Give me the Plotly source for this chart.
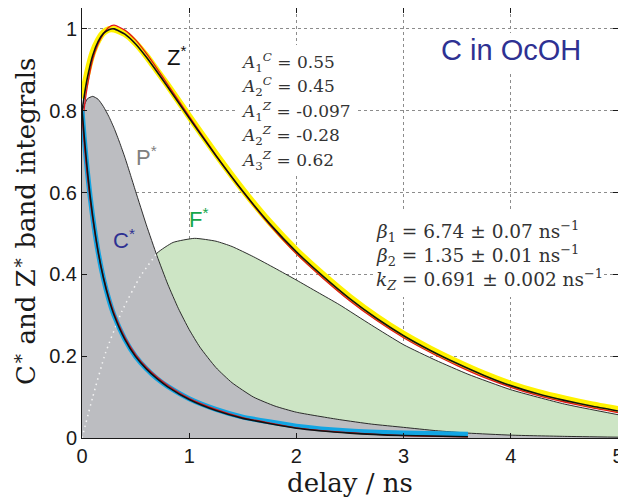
import plotly.graph_objects as go

# ---------------- data ----------------
t_z = [0, 0.025, 0.05, 0.1, 0.15, 0.2, 0.25, 0.3, 0.4, 0.5, 0.6, 0.7, 0.8, 1.0,
       1.25, 1.5, 1.75, 2.0, 2.25, 2.5, 2.75, 3.0, 3.25, 3.5, 3.75, 4.0, 4.25,
       4.5, 4.75, 5.0]
z_data = [0.83, 0.862, 0.893, 0.942, 0.972, 0.991, 0.999, 0.999, 0.988, 0.965,
          0.934, 0.898, 0.862, 0.786, 0.694, 0.607, 0.528, 0.459, 0.399, 0.344,
          0.296, 0.254, 0.218, 0.186, 0.157, 0.132, 0.112, 0.096, 0.082, 0.070]
z_fit = [0.798, 0.843, 0.880, 0.935, 0.969, 0.989, 0.998, 1.000, 0.987, 0.963,
         0.931, 0.895, 0.858, 0.782, 0.690, 0.603, 0.524, 0.455, 0.395, 0.340,
         0.292, 0.250, 0.214, 0.182, 0.153, 0.128, 0.108, 0.092, 0.078, 0.066]
z_red = [0.755, 0.815, 0.860, 0.925, 0.963, 0.988, 1.004, 1.009, 0.997, 0.973,
         0.940, 0.903, 0.864, 0.786, 0.691, 0.602, 0.521, 0.450, 0.390, 0.335,
         0.287, 0.245, 0.209, 0.177, 0.148, 0.124, 0.104, 0.088, 0.074, 0.062]

t_c = [0, 0.02, 0.05, 0.075, 0.1, 0.15, 0.2, 0.25, 0.3, 0.4, 0.5, 0.6, 0.7, 0.8,
       1.0, 1.25, 1.5, 2.0, 2.5, 3.0, 3.6]
c_data = [0.80, 0.735, 0.652, 0.592, 0.540, 0.455, 0.390, 0.339, 0.299, 0.241,
          0.199, 0.169, 0.145, 0.126, 0.096, 0.070, 0.051, 0.029, 0.017, 0.012, 0.009]
c_fit = [0.804, 0.739, 0.654, 0.594, 0.542, 0.456, 0.391, 0.340, 0.300, 0.241,
         0.199, 0.169, 0.145, 0.125, 0.094, 0.067, 0.048, 0.024, 0.012, 0.006, 0.003]
c_red = [0.790, 0.722, 0.640, 0.584, 0.536, 0.455, 0.393, 0.344, 0.305, 0.246,
         0.204, 0.173, 0.149, 0.129, 0.097, 0.070, 0.050, 0.025, 0.013, 0.006, 0.003]

t_p = [0, 0.05, 0.1, 0.15, 0.2, 0.25, 0.3, 0.35, 0.4, 0.45, 0.5, 0.6, 0.7, 0.8,
       0.9, 1.0, 1.1, 1.25, 1.4, 1.6, 1.8, 2.0, 2.4, 2.7, 3.0, 3.3, 3.6, 4.0, 4.5, 5.0]
p_vals = [0.80, 0.829, 0.835, 0.828, 0.81, 0.786, 0.757, 0.723, 0.686, 0.645,
          0.603, 0.521, 0.445, 0.376, 0.316, 0.265, 0.222, 0.172, 0.135, 0.100,
          0.078, 0.063, 0.045, 0.034, 0.026, 0.018, 0.012, 0.007, 0.004, 0.002]

t_f = [0, 0.1, 0.218, 0.373, 0.544, 0.70, 0.85, 1.05, 1.25, 1.4, 1.6, 1.8, 2.0,
       2.2, 2.4, 2.7, 3.0, 3.3, 3.6, 4.0, 4.5, 5.0]
f_vals = [0, 0.10, 0.207, 0.31, 0.395, 0.452, 0.478, 0.488, 0.481, 0.468, 0.443,
          0.415, 0.386, 0.356, 0.326, 0.276, 0.228, 0.190, 0.156, 0.118, 0.083, 0.057]
f_hidden_until = 0.70

x_ticks = [0, 1, 2, 3, 4, 5]
y_ticks = [0, 0.2, 0.4, 0.6, 0.8, 1.0]
y_tick_text = ["0", "0.2", "0.4", "0.6", "0.8", "1"]

param_lines = [
    "<i>A</i><sub>1</sub><sup><i>C</i></sup> = 0.55",
    "<i>A</i><sub>2</sub><sup><i>C</i></sup> = 0.45",
    "<i>A</i><sub>1</sub><sup><i>Z</i></sup> = -0.097",
    "<i>A</i><sub>2</sub><sup><i>Z</i></sup> = -0.28",
    "<i>A</i><sub>3</sub><sup><i>Z</i></sup> = 0.62",
]
rate_lines = [
    "<i>β</i><sub>1</sub> = 6.74 ± 0.07 ns<sup>−1</sup>",
    "<i>β</i><sub>2</sub> = 1.35 ± 0.01 ns<sup>−1</sup>",
    "<i>k</i><sub><i>Z</i></sub> = 0.691 ± 0.002 ns<sup>−1</sup>",
]

# ---------------- layout helpers ----------------
# the page body adds an 8 px offset; plot area on the page: x 82..618, y 8..438
OFF = 8
PX0, PX1, PY0, PY1 = 82, 618, 8, 438
W, H = 626 - OFF, 499 - OFF
L, R, T, B = PX0 - OFF, W - (PX1 - OFF), PY0 - OFF, H - (PY1 - OFF)
XMAX, YMAX = 5.0, 1.051
def X(px):   # page pixel -> data x
    return (px - PX0) / (PX1 - PX0) * XMAX
def Y(py):   # page pixel -> data y
    return (PY1 - py) / (PY1 - PY0) * YMAX
def XP(px):  # page pixel -> paper x
    return (px - PX0) / (PX1 - PX0)
def YP(py):
    return (PY1 - py) / (PY1 - PY0)

SPL = dict(shape="spline", smoothing=0.5)
fig = go.Figure()

fig.add_trace(go.Scatter(x=t_f, y=f_vals, mode="lines", fill="tozeroy",
                         fillcolor="#cde5c5", line=dict(color="#1a1a1a", width=0.9, **SPL),
                         hoverinfo="skip", showlegend=False))
fig.add_trace(go.Scatter(x=t_p, y=p_vals, mode="lines", fill="tozeroy",
                         fillcolor="#bcbdc1", line=dict(color="#1a1a1a", width=0.9, **SPL),
                         hoverinfo="skip", showlegend=False))
tf_h = [t for t in t_f if t <= f_hidden_until]
ff_h = [v for t, v in zip(t_f, f_vals) if t <= f_hidden_until]
fig.add_trace(go.Scatter(x=tf_h, y=ff_h, mode="lines",
                         line=dict(color="#f4f4f4", width=1.5, dash="1.5px,4px", **SPL),
                         hoverinfo="skip", showlegend=False))
fig.add_trace(go.Scatter(x=t_z, y=z_data, mode="lines",
                         line=dict(color="#fff200", width=6.5, **SPL),
                         hoverinfo="skip", showlegend=False))
fig.add_trace(go.Scatter(x=t_z, y=z_red, mode="lines",
                         line=dict(color="#e4141b", width=1.3, **SPL),
                         hoverinfo="skip", showlegend=False))
fig.add_trace(go.Scatter(x=t_z, y=z_fit, mode="lines",
                         line=dict(color="#111111", width=1.6, **SPL),
                         hoverinfo="skip", showlegend=False))
fig.add_trace(go.Scatter(x=t_c, y=c_data, mode="lines",
                         line=dict(color="#12a5e3", width=5, **SPL),
                         hoverinfo="skip", showlegend=False))
fig.add_trace(go.Scatter(x=t_c, y=c_red, mode="lines",
                         line=dict(color="#e4141b", width=1.3, **SPL),
                         hoverinfo="skip", showlegend=False))
fig.add_trace(go.Scatter(x=t_c, y=c_fit, mode="lines",
                         line=dict(color="#111111", width=1.6, **SPL),
                         hoverinfo="skip", showlegend=False))

shapes = []
for (x0, x1, y0, y1) in [(238, 355, 45, 176), (373, 604, 210, 297), (436, 587, 33, 72)]:
    shapes.append(dict(type="rect", xref="x", yref="y", x0=X(x0), x1=X(x1),
                       y0=Y(y1), y1=Y(y0), fillcolor="white", line=dict(width=0),
                       layer="above"))

ann = []
sans = "Liberation Sans, Arial, sans-serif"
serif = "DejaVu Serif, serif"
for txt, px, py, col in [("Z<sup>*</sup>", 166, 56, "#111111"),
                         ("P<sup>*</sup>", 135, 156, "#808080"),
                         ("F<sup>*</sup>", 188, 218, "#16a64a"),
                         ("C<sup>*</sup>", 112, 239, "#2e3192")]:
    ann.append(dict(text=txt, x=X(px), y=Y(py), xref="x", yref="y", xanchor="left",
                    yanchor="middle", showarrow=False, borderpad=0,
                    font=dict(family=sans, size=22, color=col)))
ann.append(dict(text="C in OcOH", x=X(440), y=Y(50), xref="x", yref="y", xanchor="left",
                yanchor="middle", showarrow=False, borderpad=0,
                font=dict(family=sans, size=29, color="#2e3192")))
for i, line in enumerate(param_lines):
    ann.append(dict(text=line, x=X(240), y=Y(62 + 24.5 * i), xref="x", yref="y",
                    xanchor="left", yanchor="middle", showarrow=False, borderpad=0,
                    font=dict(family=serif, size=17, color="#333333")))
for i, line in enumerate(rate_lines):
    ann.append(dict(text=line, x=X(375), y=Y(231 + 24 * i), xref="x", yref="y",
                    xanchor="left", yanchor="middle", showarrow=False, borderpad=0,
                    font=dict(family=serif, size=18.5, color="#333333")))
ann.append(dict(text="delay / ns", x=XP(350), y=YP(483), xref="paper",
                yref="paper", xanchor="center", yanchor="middle", showarrow=False,
                font=dict(family=serif, size=26, color="#1a1a1a")))
ann.append(dict(text="C<sup>∗</sup> and Z<sup>∗</sup> band integrals",
                x=XP(24), y=YP(222), xref="paper", yref="paper",
                xanchor="center", yanchor="middle", textangle=-90, showarrow=False,
                font=dict(family=serif, size=26, color="#1a1a1a")))

axis_common = dict(showline=True, linecolor="#1a1a1a", linewidth=1, mirror="ticks",
                   ticks="inside", ticklen=5, tickcolor="#1a1a1a", tickwidth=1,
                   showgrid=True, gridcolor="#8c8c8c", griddash="dot", gridwidth=1,
                   zeroline=False, automargin=False,
                   tickfont=dict(family=sans, size=20, color="#1a1a1a"))

fig.update_layout(
    width=W, height=H, autosize=False,
    margin=dict(l=L, r=R, t=T, b=B, pad=0),
    paper_bgcolor="white", plot_bgcolor="white",
    xaxis=dict(range=[0, XMAX], tickvals=x_ticks, **axis_common),
    yaxis=dict(range=[0, YMAX], tickvals=y_ticks, ticktext=y_tick_text, **axis_common),
    shapes=shapes, annotations=ann, showlegend=False,
)

fig.write_html("out.html")
